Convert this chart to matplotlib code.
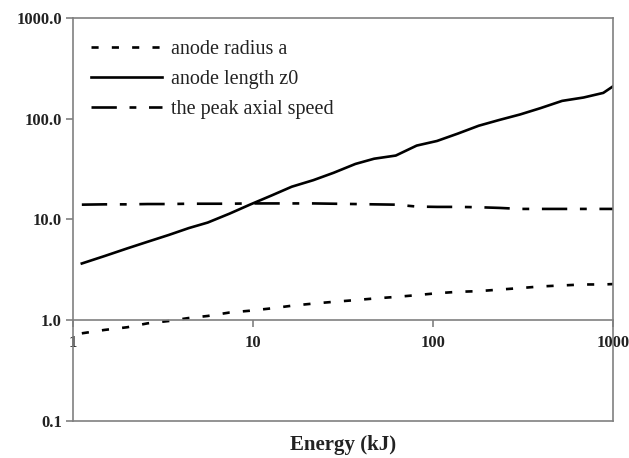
import matplotlib
matplotlib.use("Agg")
import matplotlib.pyplot as plt
from matplotlib.ticker import FixedLocator, FuncFormatter, NullLocator

# energy grid (kJ) shared by the three curves
energy = [1.12, 1.5, 2, 2.6, 3.4, 4.4, 5.6, 7.4, 9.6, 12.7, 16.4, 21.6, 28, 37,
          47, 62, 81, 105, 137, 179, 233, 304, 394, 520, 684, 880, 1000]

anode_radius = [0.74, 0.80, 0.85, 0.93, 0.98, 1.05, 1.10, 1.19, 1.24, 1.31, 1.39,
                1.46, 1.52, 1.58, 1.64, 1.70, 1.77, 1.85, 1.91, 1.94, 2.01, 2.08,
                2.16, 2.21, 2.26, 2.26, 2.28]

anode_length = [3.65, 4.33, 5.15, 6.0, 7.0, 8.2, 9.3, 11.4, 14.0, 17.3, 21.1,
                24.5, 29.0, 35.5, 40.0, 43.0, 54.0, 60.0, 71.0, 85.0, 97.0, 110.0,
                127.0, 150.0, 162.0, 180.0, 210.0]

peak_speed = [14.0, 14.1, 14.1, 14.2, 14.2, 14.3, 14.3, 14.3, 14.4, 14.4, 14.4,
              14.4, 14.3, 14.2, 14.1, 14.0, 13.4, 13.3, 13.3, 13.2, 13.0, 12.7,
              12.7, 12.7, 12.7, 12.7, 12.7]

labels = ["anode radius a", "anode length z0", "the peak axial speed"]

x_ticks = [1, 10, 100, 1000]
y_ticks = [0.1, 1, 10, 100, 1000]

serif = ["Liberation Serif", "DejaVu Serif"]
grey = "#808080"

fig = plt.figure(figsize=(6.29, 4.58), dpi=100)
ax = fig.add_axes([0.116, 0.081, 0.859, 0.880])

lw = 1.9
ax.plot(energy, anode_radius, color="black", lw=lw, dashes=(2.7, 5.0),
        label=labels[0])
ax.plot(energy, anode_length, color="black", lw=lw, label=labels[1])
ax.plot(energy, peak_speed, color="black", lw=lw, dashes=(9.6, 4.8, 2.6, 4.8),
        label=labels[2])

ax.set_xscale("log")
ax.set_yscale("log")
ax.set_xlim(1, 1000)
ax.set_ylim(0.1, 1000)

# x axis crosses at y = 1
ax.spines["bottom"].set_position(("data", 1))
for s in ax.spines.values():
    s.set_color(grey)
    s.set_linewidth(1.2)
ax.plot([0, 1], [0, 0], transform=ax.transAxes, color=grey, lw=1.2,
        clip_on=False)

ax.xaxis.set_major_locator(FixedLocator(x_ticks))
ax.xaxis.set_minor_locator(NullLocator())
ax.yaxis.set_major_locator(FixedLocator(y_ticks))
ax.yaxis.set_minor_locator(NullLocator())
ax.xaxis.set_major_formatter(FuncFormatter(lambda v, p: f"{v:g}"))
ax.yaxis.set_major_formatter(FuncFormatter(lambda v, p: f"{v:.1f}"))
ax.tick_params(axis="both", direction="out", length=5, width=1.2, color=grey,
               colors="#222222", pad=3)
ax.tick_params(axis="x", pad=6)
for t in ax.get_xticklabels() + ax.get_yticklabels():
    t.set_family(serif)
    t.set_fontweight("bold")
    t.set_fontsize(12)

ax.set_xlabel("Energy (kJ)", family=serif, fontweight="bold", fontsize=15,
              color="#222222")
ax.xaxis.set_label_coords(0.5, -0.035)

leg = ax.legend(loc="upper left", frameon=False, handlelength=3.5,
                handletextpad=0.45, labelspacing=0.55,
                bbox_to_anchor=(0.0, 0.99),
                prop={"family": serif, "size": 14.5})
for t in leg.get_texts():
    t.set_color("#222222")

fig.savefig("out.png", dpi=100)
